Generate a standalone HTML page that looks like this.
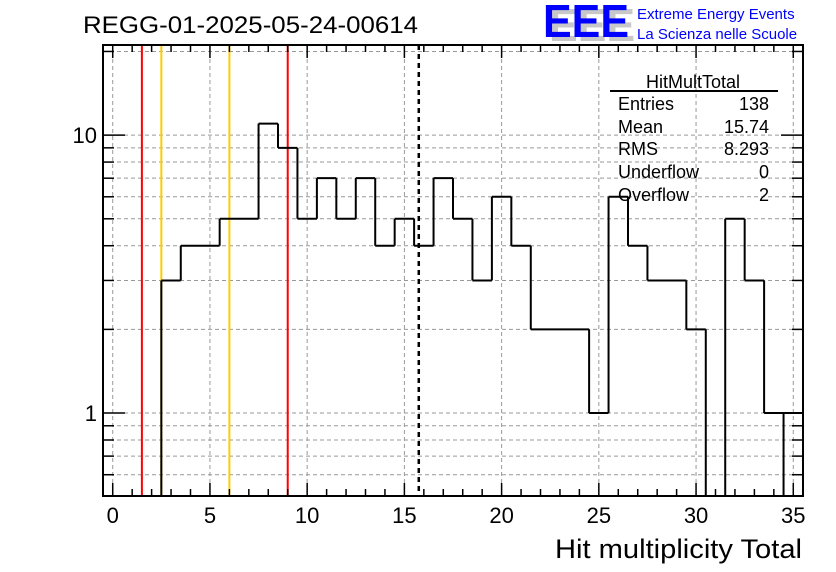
<!DOCTYPE html>
<html><head><meta charset="utf-8"><style>
body{margin:0;background:#fff;}
svg{display:block;font-family:"Liberation Sans",sans-serif;}
</style></head><body>
<svg id="c" width="836" height="572" xmlns="http://www.w3.org/2000/svg">
<rect width="836" height="572" fill="#fff"/>
<g id="grid"></g>
<g id="lines"></g>
<path id="hist" fill="none" stroke="#000" stroke-width="2"/>
<g id="axes"></g>
<rect x="103" y="45" width="700" height="451" fill="none" stroke="#000" stroke-width="2"/>
<text x="83" y="33" font-size="24" textLength="335" lengthAdjust="spacingAndGlyphs">REGG-01-2025-05-24-00614</text>
<g>
<text x="549" y="41" font-size="46" font-weight="bold" fill="#c8c8c8" textLength="86" lengthAdjust="spacingAndGlyphs">EEE</text>
<text x="543" y="37" font-size="46" font-weight="bold" fill="#0000ff" textLength="86" lengthAdjust="spacingAndGlyphs">EEE</text>
<text x="637" y="19" font-size="15" fill="#0000ff">Extreme Energy Events</text>
<text x="637" y="39" font-size="15" fill="#0000ff">La Scienza nelle Scuole</text>
</g>
<g font-size="18">
<text x="693" y="88" text-anchor="middle">HitMultTotal</text>
<line x1="610" y1="91" x2="778" y2="91" stroke="#000" stroke-width="2"/>
<text x="618" y="110">Entries</text><text x="769" y="110" text-anchor="end">138</text>
<text x="618" y="133">Mean</text><text x="769" y="133" text-anchor="end">15.74</text>
<text x="618" y="155">RMS</text><text x="769" y="155" text-anchor="end">8.293</text>
<text x="618" y="178">Underflow</text><text x="769" y="178" text-anchor="end">0</text>
<text x="618" y="201">Overflow</text><text x="769" y="201" text-anchor="end">2</text>
</g>
<text x="802" y="558" font-size="27" text-anchor="end" textLength="247" lengthAdjust="spacingAndGlyphs">Hit multiplicity Total</text>
</svg>
<script>
const binCenters=[0,1,2,3,4,5,6,7,8,9,10,11,12,13,14,15,16,17,18,19,20,21,22,23,24,25,26,27,28,29,30,31,32,33,34,35];
const binCounts=[0,0,0,3,4,4,5,5,11,9,5,7,5,7,4,5,4,7,5,3,6,4,2,2,2,1,6,4,3,3,2,0,5,3,1,1];
const xTicks=[0,5,10,15,20,25,30,35];
const yTicks=[1,10];
const yMinor=[0.6,0.7,0.8,0.9,2,3,4,5,6,7,8,9,20];
const redLines=[1.5,9];
const orangeLines=[2.5,6];
const meanValue=15.74;
const NS="http://www.w3.org/2000/svg";
const X0=-0.5,X1=35.5,L=103,R=803,T=45,B=496;
const YMIN=0.503,YMAX=21.1;
const sx=v=>L+(v-X0)/(X1-X0)*(R-L);
const sy=v=>B-(Math.log10(v)-Math.log10(YMIN))/(Math.log10(YMAX)-Math.log10(YMIN))*(B-T);
function mk(tag,attrs,parent){const e=document.createElementNS(NS,tag);for(const k in attrs)e.setAttribute(k,attrs[k]);document.getElementById(parent).appendChild(e);return e;}
xTicks.forEach(t=>{const e=mk('line',{x1:sx(t),x2:sx(t),y1:T,y2:B,stroke:'#999','stroke-dasharray':'4,3','stroke-width':1},'grid');

});
yTicks.concat(yMinor).forEach(t=>{const e=mk('line',{x1:L,x2:R,y1:sy(t),y2:sy(t),stroke:'#999','stroke-dasharray':'4,3','stroke-width':1},'grid');

});
redLines.forEach(v=>{const e=mk('line',{x1:sx(v),x2:sx(v),y1:T,y2:B,stroke:'#ff0000','stroke-width':2},'lines');

});
orangeLines.forEach(v=>{const e=mk('line',{x1:sx(v),x2:sx(v),y1:T,y2:B,stroke:'#ffcc00','stroke-width':2},'lines');

});
{const e=mk('line',{x1:sx(meanValue),x2:sx(meanValue),y1:T,y2:B,stroke:'#000','stroke-width':2.5,'stroke-dasharray':'5,4'},'lines');

}
let d='',prev=0;
const yv=c=>c>0?sy(c):B;
binCenters.forEach((c,i)=>{const x0=sx(c-0.5),x1=sx(c+0.5),n=binCounts[i];
 if(n>0||prev>0){d+=`M${x0},${yv(prev)}L${x0},${yv(n)}`;}
 if(n>0)d+=`M${x0},${yv(n)}L${x1},${yv(n)}`;
 prev=n;});
// last-bin edge drawn down to the baseline (as in ROOT output)
const lastI=binCenters.length-1;
d+=`M${sx(binCenters[lastI]-0.5)},${yv(binCounts[lastI])}L${sx(binCenters[lastI]-0.5)},${B}`;
document.getElementById('hist').setAttribute('d',d);
for(let v=0;v<=35;v++){const big=v%5===0,len=big?13:7;
 mk('line',{x1:sx(v),x2:sx(v),y1:B,y2:B-len,stroke:'#000','stroke-width':1.5},'axes');
 mk('line',{x1:sx(v),x2:sx(v),y1:T,y2:T+len,stroke:'#000','stroke-width':1.5},'axes');}
xTicks.forEach(t=>{const e=mk('text',{x:sx(t),y:523,'font-size':22,'text-anchor':'middle'},'axes');e.textContent=t;

});
yTicks.forEach(t=>{mk('line',{x1:L,x2:L+22,y1:sy(t),y2:sy(t),stroke:'#000','stroke-width':1.5},'axes');
 mk('line',{x1:R,x2:R-22,y1:sy(t),y2:sy(t),stroke:'#000','stroke-width':1.5},'axes');
 const e=mk('text',{x:L-6,y:sy(t)+8,'font-size':22,'text-anchor':'end'},'axes');e.textContent=t;
 
 });
yMinor.forEach(t=>{mk('line',{x1:L,x2:L+11,y1:sy(t),y2:sy(t),stroke:'#000','stroke-width':1.5},'axes');
 mk('line',{x1:R,x2:R-11,y1:sy(t),y2:sy(t),stroke:'#000','stroke-width':1.5},'axes');});
</script>
</body></html>
